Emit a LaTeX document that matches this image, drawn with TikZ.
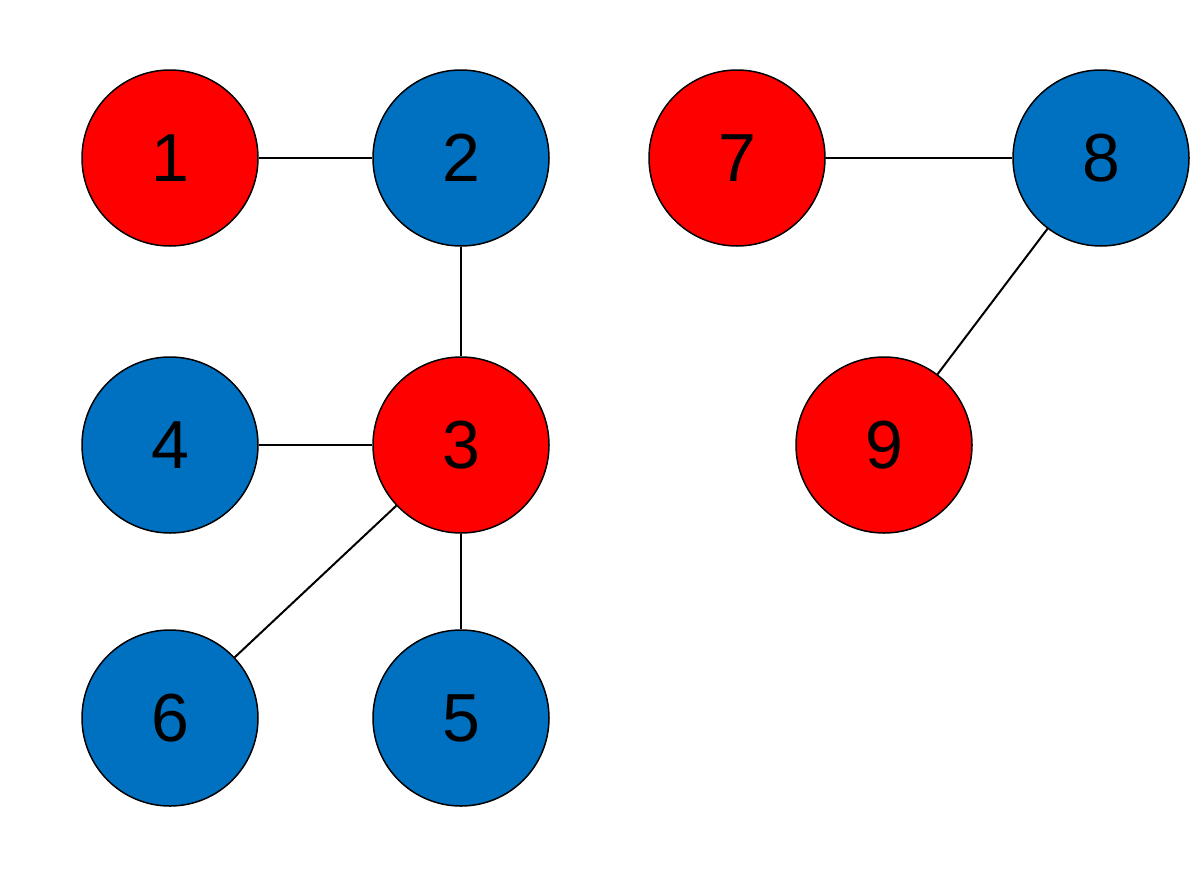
\documentclass[tikz,border=0pt]{standalone}
\usepackage{fontspec}
\setmainfont{Liberation Sans}
\definecolor{nred}{HTML}{FF0000}
\definecolor{nblue}{HTML}{0070C0}
\begin{document}
\begin{tikzpicture}[x=1pt,y=-1pt,
  vtx/.style={circle,draw=black,line width=1.5pt,minimum size=176pt,inner sep=0pt,font=\fontsize{68}{68}\selectfont},
  rv/.style={vtx,fill=nred},
  bv/.style={vtx,fill=nblue},
  edge/.style={line width=2pt}]
\useasboundingbox (0,0) rectangle (1201,881);
\node[rv] (n1) at (170,158) {1};
\node[bv] (n2) at (461,158) {2};
\node[rv] (n7) at (737,158) {7};
\node[bv] (n8) at (1101,158) {8};
\node[bv] (n4) at (170,445) {4};
\node[rv] (n3) at (461,445) {3};
\node[rv] (n9) at (884,445) {9};
\node[bv] (n6) at (170,718) {6};
\node[bv] (n5) at (461,718) {5};
\draw[edge] (n1) -- (n2);
\draw[edge] (n2) -- (n3);
\draw[edge] (n4) -- (n3);
\draw[edge] (n3) -- (n6);
\draw[edge] (n3) -- (n5);
\draw[edge] (n7) -- (n8);
\draw[edge] (n8) -- (n9);
\end{tikzpicture}
\end{document}
